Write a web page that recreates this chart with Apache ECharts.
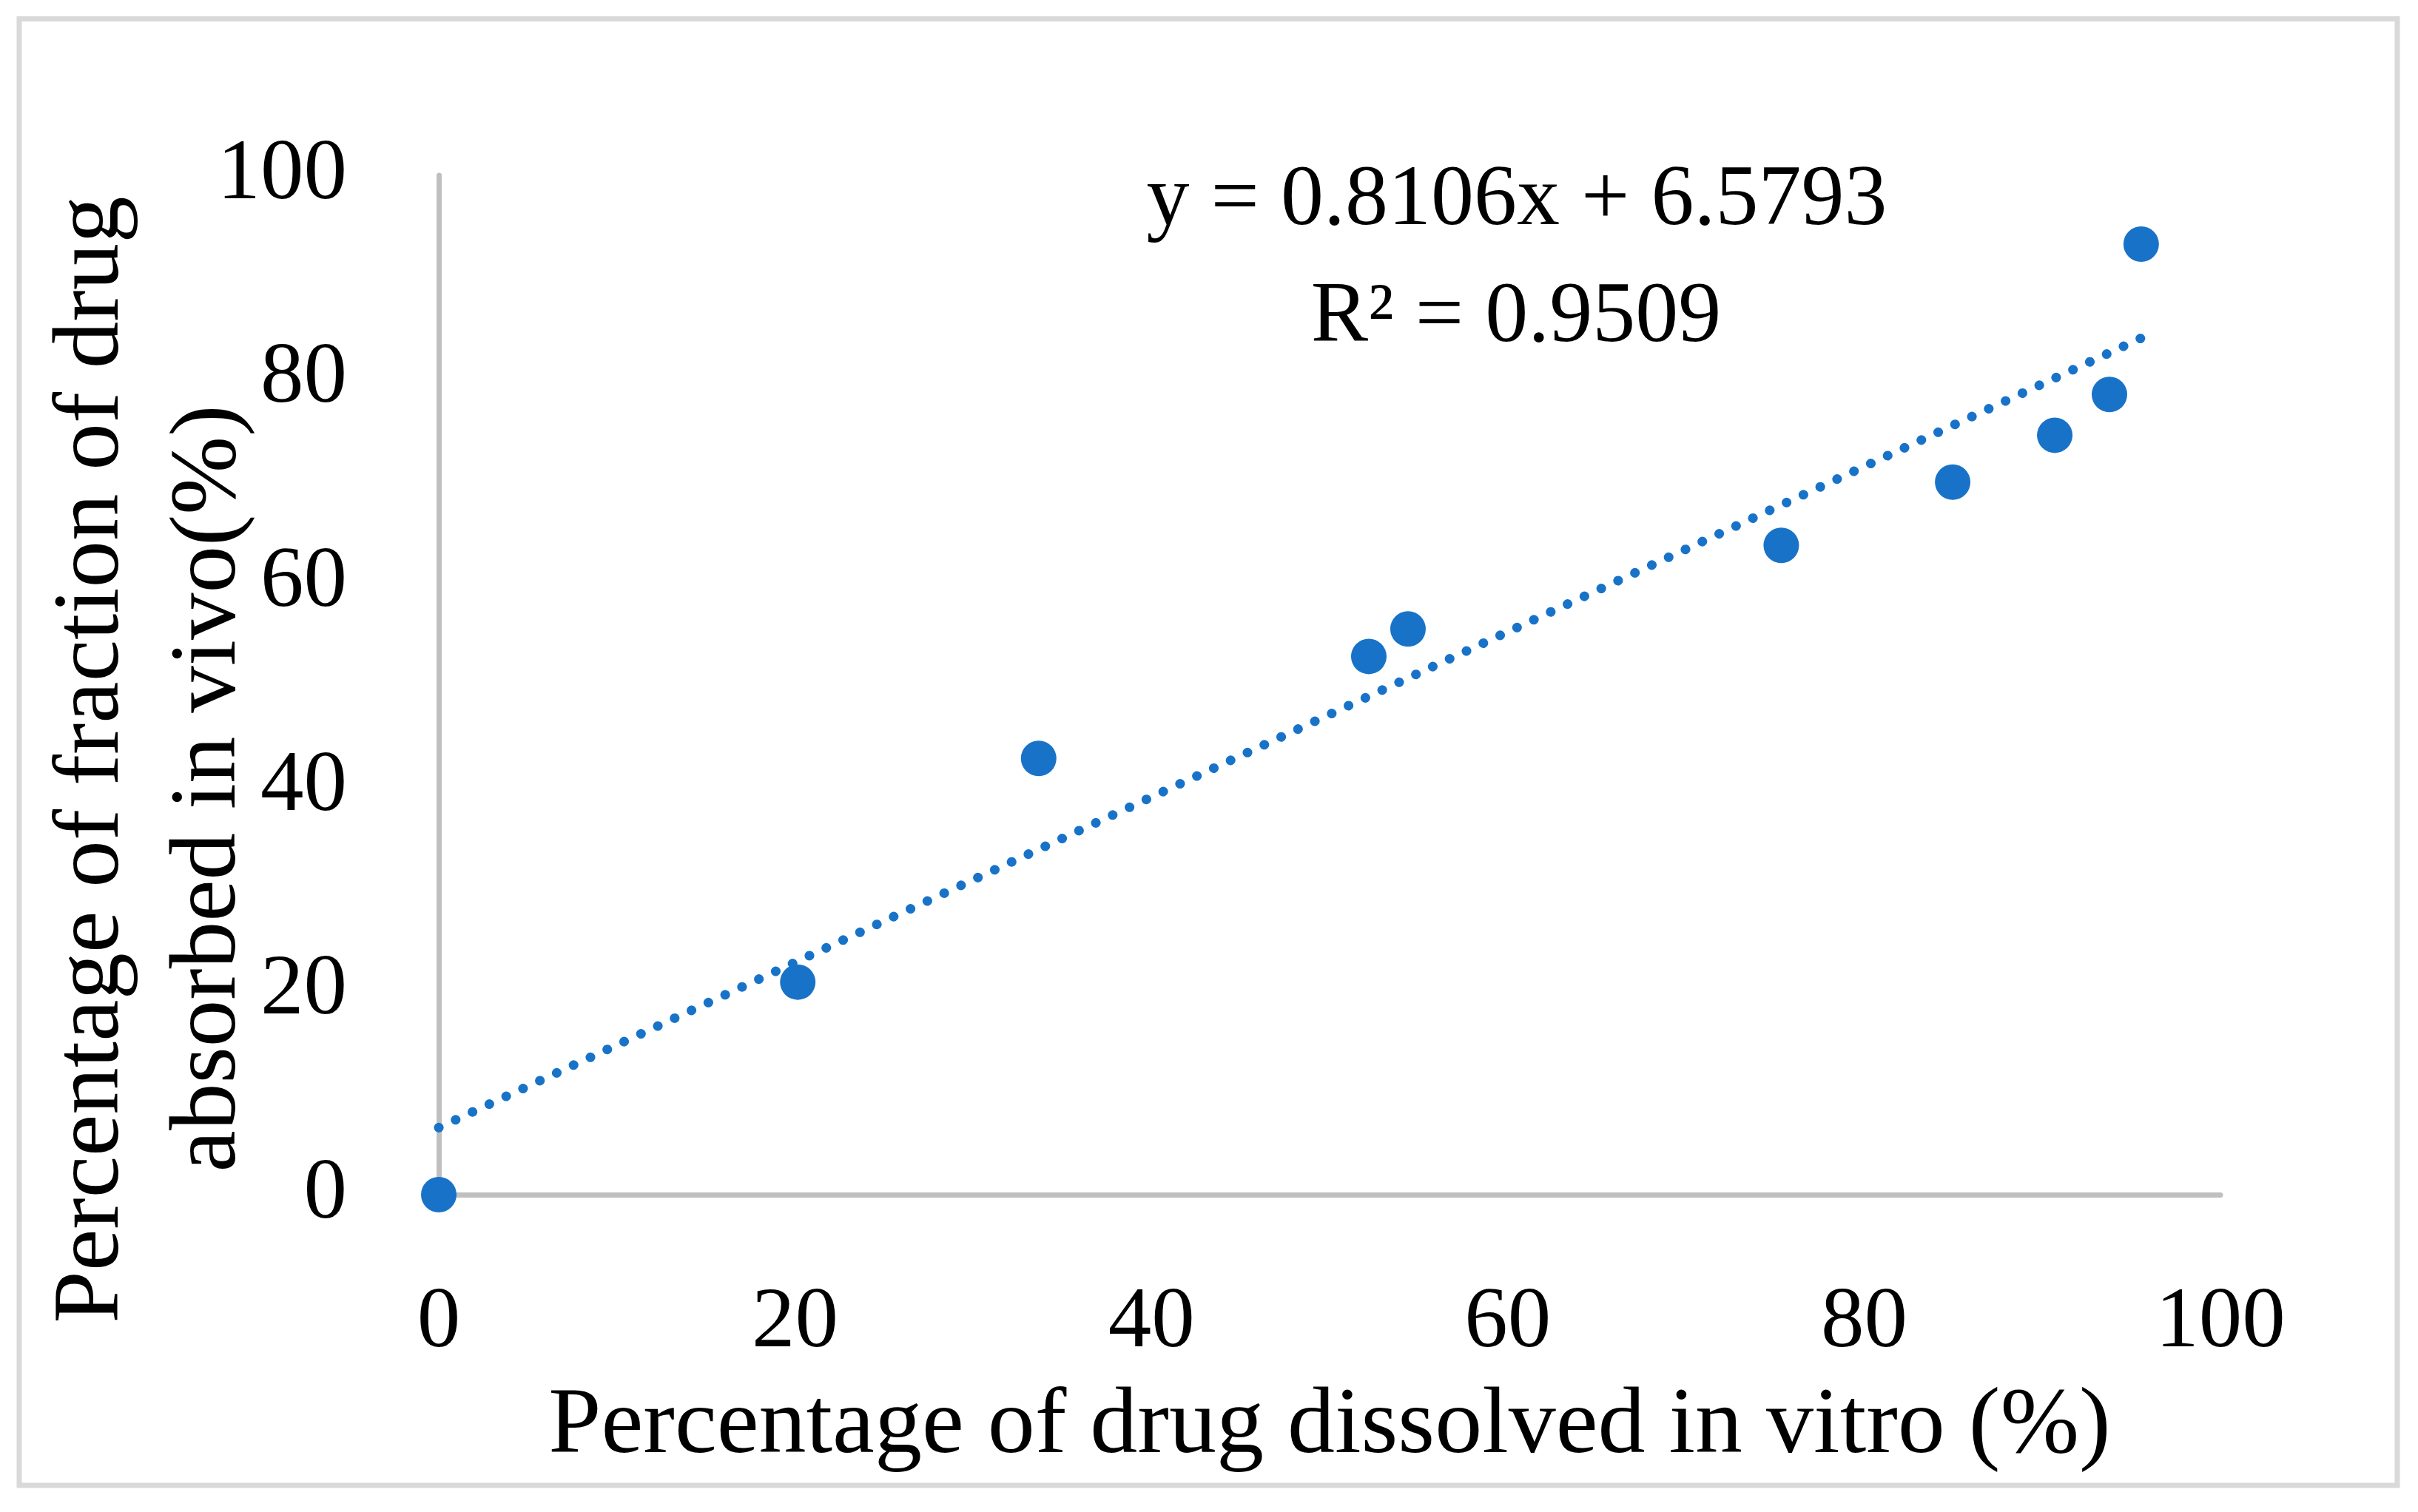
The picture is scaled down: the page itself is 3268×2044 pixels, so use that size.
<!DOCTYPE html>
<html><head><meta charset="utf-8">
<script src="https://cdn.jsdelivr.net/npm/echarts@6/dist/echarts.min.js"></script>
<style>html,body{margin:0;padding:0;background:#fff}#chart{width:3268px;height:2044px}</style>
</head><body><div id="chart"></div>
<script>
// ---- data ----
const xDissolved = [0, 20.15, 33.67, 52.2, 54.4, 75.35, 84.97, 90.7, 93.77, 95.55];
const yAbsorbed  = [0, 20.85, 42.8, 52.8, 55.5, 63.7, 69.9, 74.5, 78.5, 93.25];
const trendSlope = 0.8106;
const trendIntercept = 6.5793;
const axisMin = 0, axisMax = 100, axisStep = 20;
const xTitle = 'Percentage of drug dissolved in vitro (%)';
const yTitleLines = ['Percentage of fraction of drug', 'absorbed in vivo(%)'];
const equationLines = ['y = 0.8106x + 6.5793', 'R\u00b2 = 0.9509'];

const FONT = '"Liberation Serif", "Times New Roman", serif';
const BLUE = '#1873c8';

const points = xDissolved.map((x, i) => [x, yAbsorbed[i]]);
const xLo = Math.min(...xDissolved), xHi = Math.max(...xDissolved);
const trend = [[xLo, trendSlope * xLo + trendIntercept], [xHi, trendSlope * xHi + trendIntercept]];

const chart = echarts.init(document.getElementById('chart'), null, {renderer: 'canvas'});
const axisCommon = {
  type: 'value', min: axisMin, max: axisMax, interval: axisStep,
  splitLine: {show: false},
  axisTick: {show: false},
  axisLine: {show: true, onZero: false, lineStyle: {color: '#bfbfbf', width: 7}},
};
chart.setOption({
  backgroundColor: '#ffffff',
  animation: false,
  grid: {left: 593, right: 267, top: 237, bottom: 429, containLabel: false, outerBoundsMode: 'none'},
  xAxis: Object.assign({}, axisCommon, {
    axisLabel: {fontFamily: FONT, fontSize: 117, color: '#000', margin: 116},
    name: xTitle, nameLocation: 'middle', nameGap: 250,
    nameTextStyle: {fontFamily: FONT, fontSize: 128, color: '#000'}
  }),
  yAxis: Object.assign({}, axisCommon, {
    axisLabel: {fontFamily: FONT, fontSize: 117, color: '#000', margin: 124}
  }),
  graphic: [
    {type: 'rect', shape: {x: 26, y: 25.5, width: 3214, height: 1982.5},
     style: {fill: 'none', stroke: '#d9d9d9', lineWidth: 7}, silent: true},
    {type: 'text', x: 126, y: 1027, rotation: Math.PI / 2,
     style: {text: yTitleLines[0], font: '127px ' + FONT, fill: '#000', align: 'center', verticalAlign: 'middle'}},
    {type: 'text', x: 284, y: 1066, rotation: Math.PI / 2,
     style: {text: yTitleLines[1], font: '127px ' + FONT, fill: '#000', align: 'center', verticalAlign: 'middle'}},
    {type: 'text', x: 2050, y: 273,
     style: {text: equationLines[0], font: '116px ' + FONT, fill: '#000', align: 'center', verticalAlign: 'middle'}},
    {type: 'text', x: 2049, y: 431,
     style: {text: equationLines[1], font: '116px ' + FONT, fill: '#000', align: 'center', verticalAlign: 'middle'}}
  ],
  series: [
    {type: 'scatter', data: points, symbol: 'circle', symbolSize: 48,
     itemStyle: {color: BLUE, opacity: 1}, z: 2},
    {type: 'line', data: trend, symbol: 'none', z: 3,
     lineStyle: {color: BLUE, width: 13, type: [0.1, 25], cap: 'round', opacity: 1}}
  ]
});
</script></body></html>
